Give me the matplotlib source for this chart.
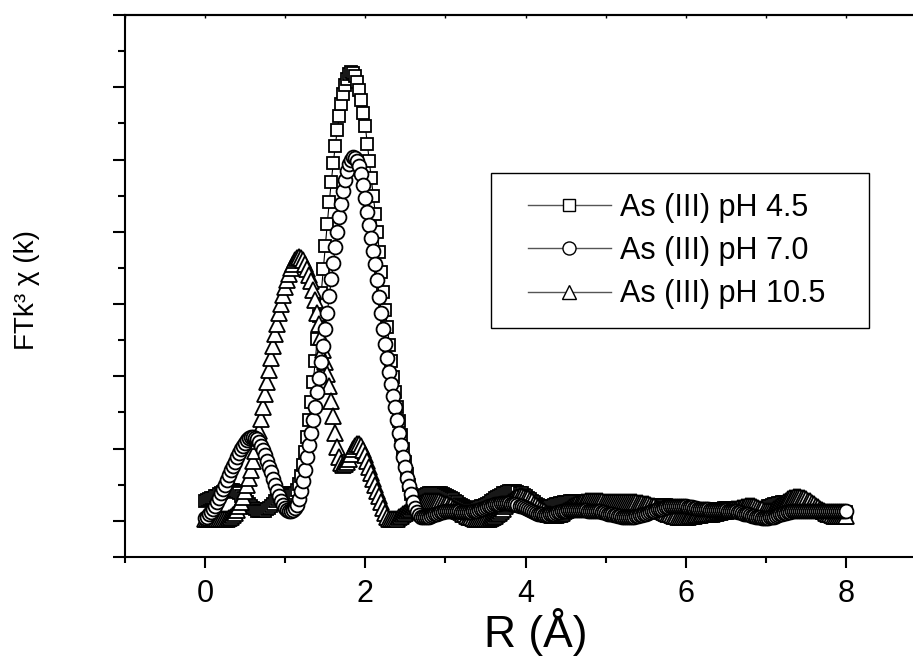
import matplotlib
matplotlib.use('Agg')
import matplotlib.pyplot as plt
from matplotlib.lines import Line2D
from matplotlib.patches import Rectangle
import numpy as np

plt.rcParams['font.family'] = ['Liberation Sans', 'DejaVu Sans']

# R grid (Angstrom), 0.025 step
r = np.linspace(0, 8, 321)

# FT magnitude, As(III) pH 4.5 (squares)
ph45 = np.array([
    0.28, 0.29, 0.30, 0.31, 0.32, 0.34, 0.35, 0.37, 0.38, 0.40, 0.41, 0.42, 0.43, 0.43, 0.43, 0.42, 0.40, 0.38, 0.35, 0.32,
    0.29, 0.26, 0.23, 0.20, 0.18, 0.16, 0.14, 0.13, 0.13, 0.13, 0.14, 0.16, 0.18, 0.21, 0.24, 0.27, 0.30, 0.33, 0.35, 0.37,
    0.38, 0.38, 0.37, 0.36, 0.36, 0.38, 0.43, 0.51, 0.62, 0.77, 0.95, 1.16, 1.39, 1.64, 1.92, 2.21, 2.52, 2.84, 3.16, 3.48,
    3.80, 4.11, 4.41, 4.69, 4.95, 5.19, 5.41, 5.60, 5.77, 5.91, 6.03, 6.12, 6.18, 6.21, 6.20, 6.15, 6.07, 5.96, 5.82, 5.65,
    5.46, 5.22, 4.98, 4.74, 4.50, 4.25, 4.00, 3.72, 3.44, 3.17, 2.92, 2.68, 2.44, 2.21, 1.99, 1.78, 1.58, 1.38, 1.19, 1.00,
    0.82, 0.65, 0.50, 0.37, 0.28, 0.24, 0.24, 0.27, 0.31, 0.34, 0.36, 0.37, 0.38, 0.39, 0.39, 0.39, 0.39, 0.38, 0.38, 0.37,
    0.36, 0.35, 0.33, 0.32, 0.30, 0.28, 0.26, 0.24, 0.22, 0.20, 0.19, 0.18, 0.17, 0.17, 0.17, 0.17, 0.18, 0.19, 0.20, 0.21,
    0.22, 0.24, 0.25, 0.27, 0.29, 0.31, 0.33, 0.35, 0.36, 0.38, 0.39, 0.40, 0.41, 0.41, 0.41, 0.41, 0.40, 0.39, 0.38, 0.36,
    0.34, 0.32, 0.30, 0.28, 0.26, 0.24, 0.22, 0.21, 0.20, 0.19, 0.19, 0.19, 0.20, 0.21, 0.22, 0.23, 0.24, 0.25, 0.25, 0.26,
    0.26, 0.26, 0.27, 0.27, 0.27, 0.27, 0.27, 0.27, 0.27, 0.27, 0.26, 0.26, 0.25, 0.25, 0.24, 0.23, 0.22, 0.21, 0.20, 0.19,
    0.18, 0.17, 0.16, 0.15, 0.14, 0.13, 0.12, 0.12, 0.11, 0.11, 0.11, 0.11, 0.11, 0.12, 0.12, 0.13, 0.14, 0.15, 0.16, 0.17,
    0.18, 0.19, 0.20, 0.21, 0.21, 0.22, 0.22, 0.22, 0.22, 0.22, 0.22, 0.21, 0.20, 0.19, 0.18, 0.17, 0.16, 0.15, 0.14, 0.13,
    0.12, 0.12, 0.11, 0.11, 0.11, 0.11, 0.11, 0.12, 0.12, 0.13, 0.13, 0.14, 0.14, 0.15, 0.15, 0.16, 0.16, 0.17, 0.17, 0.18,
    0.18, 0.18, 0.18, 0.18, 0.18, 0.18, 0.18, 0.17, 0.17, 0.16, 0.16, 0.15, 0.15, 0.14, 0.14, 0.14, 0.14, 0.15, 0.16, 0.17,
    0.18, 0.20, 0.21, 0.22, 0.23, 0.24, 0.25, 0.25, 0.26, 0.26, 0.26, 0.26, 0.25, 0.25, 0.24, 0.23, 0.22, 0.21, 0.20, 0.19,
    0.18, 0.17, 0.16, 0.15, 0.14, 0.13, 0.12, 0.12, 0.11, 0.11, 0.11, 0.11, 0.11, 0.11, 0.11, 0.11, 0.11, 0.11, 0.12, 0.12,
    0.12])

# FT magnitude, As(III) pH 7.0 (circles)
ph70 = np.array([
    0.04, 0.06, 0.09, 0.12, 0.16, 0.21, 0.26, 0.32, 0.38, 0.44, 0.50, 0.57, 0.63, 0.70, 0.76, 0.82, 0.88, 0.94, 0.99, 1.04,
    1.08, 1.12, 1.14, 1.16, 1.16, 1.15, 1.13, 1.09, 1.04, 0.98, 0.91, 0.83, 0.75, 0.67, 0.58, 0.50, 0.42, 0.35, 0.28, 0.22,
    0.18, 0.15, 0.13, 0.13, 0.15, 0.18, 0.22, 0.30, 0.41, 0.55, 0.71, 0.88, 1.05, 1.22, 1.40, 1.58, 1.78, 1.98, 2.20, 2.42,
    2.65, 2.88, 3.11, 3.34, 3.57, 3.79, 4.00, 4.20, 4.39, 4.56, 4.71, 4.84, 4.94, 5.00, 5.03, 5.02, 4.98, 4.91, 4.80, 4.65,
    4.47, 4.28, 4.10, 3.92, 3.74, 3.55, 3.33, 3.10, 2.88, 2.66, 2.45, 2.25, 2.06, 1.89, 1.73, 1.57, 1.40, 1.22, 1.05, 0.89,
    0.74, 0.60, 0.48, 0.37, 0.26, 0.18, 0.12, 0.08, 0.06, 0.05, 0.05, 0.05, 0.06, 0.07, 0.08, 0.09, 0.10, 0.11, 0.12, 0.12,
    0.13, 0.13, 0.13, 0.13, 0.13, 0.13, 0.13, 0.13, 0.12, 0.12, 0.12, 0.12, 0.12, 0.12, 0.13, 0.13, 0.14, 0.15, 0.16, 0.17,
    0.18, 0.19, 0.20, 0.21, 0.22, 0.23, 0.24, 0.24, 0.25, 0.25, 0.25, 0.25, 0.25, 0.24, 0.24, 0.23, 0.22, 0.21, 0.20, 0.19,
    0.18, 0.16, 0.15, 0.14, 0.12, 0.11, 0.10, 0.09, 0.09, 0.08, 0.08, 0.08, 0.09, 0.09, 0.10, 0.11, 0.12, 0.12, 0.13, 0.14,
    0.14, 0.15, 0.15, 0.15, 0.15, 0.15, 0.15, 0.15, 0.15, 0.15, 0.15, 0.14, 0.14, 0.14, 0.14, 0.14, 0.13, 0.13, 0.12, 0.12,
    0.11, 0.10, 0.10, 0.09, 0.08, 0.08, 0.07, 0.07, 0.06, 0.06, 0.06, 0.06, 0.06, 0.06, 0.06, 0.07, 0.07, 0.08, 0.08, 0.09,
    0.10, 0.11, 0.12, 0.13, 0.14, 0.15, 0.16, 0.17, 0.17, 0.18, 0.19, 0.19, 0.20, 0.20, 0.20, 0.20, 0.20, 0.20, 0.20, 0.20,
    0.20, 0.19, 0.19, 0.19, 0.18, 0.18, 0.17, 0.17, 0.17, 0.16, 0.16, 0.16, 0.15, 0.15, 0.15, 0.15, 0.15, 0.15, 0.15, 0.15,
    0.15, 0.14, 0.14, 0.14, 0.13, 0.13, 0.12, 0.12, 0.11, 0.10, 0.10, 0.09, 0.08, 0.07, 0.07, 0.06, 0.05, 0.05, 0.04, 0.04,
    0.04, 0.04, 0.05, 0.05, 0.06, 0.07, 0.08, 0.09, 0.10, 0.11, 0.11, 0.12, 0.12, 0.13, 0.13, 0.13, 0.13, 0.13, 0.13, 0.13,
    0.13, 0.13, 0.13, 0.13, 0.13, 0.13, 0.13, 0.13, 0.13, 0.13, 0.13, 0.13, 0.13, 0.13, 0.14, 0.14, 0.14, 0.14, 0.14, 0.14,
    0.14])

# FT magnitude, As(III) pH 10.5 (triangles)
ph105 = np.array([
    0.02, 0.02, 0.02, 0.02, 0.02, 0.02, 0.02, 0.02, 0.02, 0.02, 0.02, 0.03, 0.04, 0.06, 0.08, 0.11, 0.15, 0.20, 0.26, 0.33,
    0.41, 0.50, 0.60, 0.71, 0.83, 0.96, 1.10, 1.25, 1.41, 1.58, 1.75, 1.92, 2.09, 2.26, 2.42, 2.58, 2.73, 2.87, 3.00, 3.12,
    3.23, 3.33, 3.42, 3.50, 3.56, 3.61, 3.64, 3.65, 3.64, 3.61, 3.56, 3.49, 3.40, 3.32, 3.20, 3.05, 2.88, 2.72, 2.55, 2.37,
    2.20, 2.03, 1.86, 1.66, 1.45, 1.22, 1.02, 0.88, 0.80, 0.77, 0.78, 0.81, 0.86, 0.93, 0.99, 1.04, 1.06, 1.06, 1.03, 0.98,
    0.91, 0.83, 0.74, 0.66, 0.58, 0.50, 0.42, 0.34, 0.26, 0.18, 0.11, 0.06, 0.03, 0.02, 0.02, 0.02, 0.03, 0.05, 0.07, 0.09,
    0.11, 0.13, 0.15, 0.17, 0.19, 0.21, 0.22, 0.24, 0.25, 0.26, 0.27, 0.27, 0.28, 0.28, 0.28, 0.28, 0.27, 0.27, 0.26, 0.25,
    0.24, 0.23, 0.21, 0.20, 0.18, 0.17, 0.15, 0.13, 0.12, 0.10, 0.09, 0.07, 0.06, 0.05, 0.04, 0.03, 0.03, 0.02, 0.02, 0.02,
    0.02, 0.03, 0.03, 0.04, 0.05, 0.07, 0.09, 0.11, 0.14, 0.17, 0.20, 0.23, 0.26, 0.28, 0.30, 0.32, 0.33, 0.34, 0.34, 0.33,
    0.32, 0.31, 0.29, 0.27, 0.24, 0.22, 0.19, 0.17, 0.15, 0.13, 0.11, 0.10, 0.09, 0.08, 0.08, 0.08, 0.09, 0.10, 0.11, 0.13,
    0.15, 0.17, 0.19, 0.20, 0.22, 0.23, 0.24, 0.25, 0.26, 0.26, 0.27, 0.27, 0.27, 0.27, 0.27, 0.27, 0.27, 0.27, 0.27, 0.26,
    0.26, 0.26, 0.26, 0.26, 0.26, 0.26, 0.26, 0.26, 0.26, 0.26, 0.26, 0.26, 0.26, 0.26, 0.26, 0.26, 0.25, 0.25, 0.25, 0.24,
    0.24, 0.23, 0.22, 0.21, 0.20, 0.18, 0.17, 0.15, 0.14, 0.12, 0.11, 0.10, 0.09, 0.08, 0.07, 0.07, 0.06, 0.06, 0.06, 0.06,
    0.06, 0.06, 0.07, 0.07, 0.07, 0.08, 0.08, 0.08, 0.09, 0.09, 0.09, 0.10, 0.10, 0.10, 0.11, 0.11, 0.12, 0.12, 0.13, 0.13,
    0.14, 0.15, 0.15, 0.16, 0.17, 0.17, 0.18, 0.18, 0.19, 0.19, 0.20, 0.20, 0.20, 0.20, 0.20, 0.19, 0.18, 0.17, 0.16, 0.14,
    0.13, 0.13, 0.13, 0.14, 0.16, 0.18, 0.20, 0.22, 0.24, 0.26, 0.28, 0.30, 0.31, 0.32, 0.33, 0.33, 0.33, 0.33, 0.32, 0.31,
    0.30, 0.28, 0.27, 0.25, 0.23, 0.21, 0.19, 0.17, 0.15, 0.13, 0.11, 0.10, 0.09, 0.08, 0.07, 0.07, 0.07, 0.07, 0.07, 0.07,
    0.07])

labels = ['As (III) pH 4.5', 'As (III) pH 7.0', 'As (III) pH 10.5']
series = [ph45, ph70, ph105]
markers = ['s', 'o', '^']
msizes = [8.2, 10.0, 11.5]
leg_sizes = [8.2, 9.4, 10.5]
draw_order = [0, 2, 1]  # circles end up on top

fig = plt.figure(figsize=(9.13, 6.63), dpi=100)
ax = fig.add_axes([125 / 913, 106 / 663, 789 / 913, 542 / 663])

for i in draw_order:
    ax.plot(r, series[i], color='black', lw=0.8, marker=markers[i], ms=msizes[i],
            mfc='white', mec='black', mew=1.3)

ax.set_xlim(-1, 8.85)
ax.set_ylim(-0.5, 7)
ax.spines['right'].set_visible(False)
for s in ['left', 'bottom', 'top']:
    ax.spines[s].set_linewidth(1.5)

ax.set_xticks([0, 2, 4, 6, 8])
ax.set_xticks([-1, 1, 3, 5, 7], minor=True)
ax.set_yticks([-0.5] + list(range(8)))
ax.set_yticks(np.arange(0.5, 7, 1), minor=True)
ax.tick_params(axis='y', which='both', labelleft=False, direction='out', width=1.5)
ax.tick_params(axis='y', which='major', length=8.6)
ax.tick_params(axis='y', which='minor', length=5)
ax.tick_params(axis='x', which='major', length=8, width=1.5, labelsize=22, pad=8)
ax.tick_params(axis='x', which='minor', length=4.3, width=1.5)

sec = ax.secondary_xaxis('top')
sec.set_xticks(range(-1, 9))
sec.set_xticklabels([])
sec.tick_params(direction='in', length=2.5, width=1)
sec.spines['top'].set_linewidth(1.5)

ax.set_xlabel('R (Å)', fontsize=32)
ax.xaxis.set_label_coords(0.52, -0.095)
ax.set_ylabel('FTk³ χ (k)', fontsize=20)
ax.yaxis.set_label_coords(-0.108, 0.493)

handles = [Line2D([], [], color='#555555', lw=1, marker=m, ms=s,
                  mfc='white', mec='black', mew=1)
           for m, s in zip(markers, leg_sizes)]
ax.legend(handles, labels, loc='upper left', bbox_to_anchor=(528 / 913, 1 - 193 / 663),
          bbox_transform=fig.transFigure, frameon=False, fontsize=22,
          handlelength=2.7, handletextpad=0.3, labelspacing=0.43,
          borderpad=0, borderaxespad=0)
fig.add_artist(Rectangle((491 / 913, 1 - 328 / 663), 378 / 913, 155 / 663,
                         transform=fig.transFigure, fill=False, ec='black', lw=1))

fig.savefig('out.png', dpi=100)
